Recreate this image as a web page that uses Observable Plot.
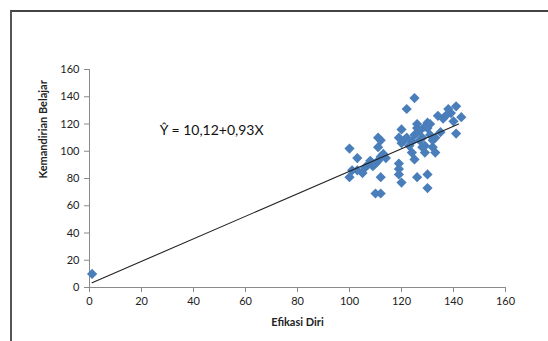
<!DOCTYPE html>
<html>
<head>
<meta charset="utf-8">
<script src="https://cdn.jsdelivr.net/npm/d3@7"></script>
<script src="https://cdn.jsdelivr.net/npm/@observablehq/plot@0.6"></script>
<style>
  html, body { margin: 0; padding: 0; background: #fff; overflow: hidden; }
  body { width: 548px; height: 341px; position: relative; }
  #frame { position: absolute; left: 10px; top: 10px; right: 0; bottom: 0;
           border-top: 2px solid #444; border-left: 2px solid #555; }
  #chart { position: absolute; left: 0; top: 0; }
</style>
</head>
<body>
<div id="frame"></div>
<div id="chart"></div>
<script>
// Efikasi Diri (x) and Kemandirian Belajar (y) observations
const efikasi = [1,
  100, 100, 101, 103, 103, 105, 106, 107, 108, 109, 110, 111, 111, 112, 111, 112, 110, 112, 113, 114, 112,
  120, 119, 120, 119, 119, 119, 120, 122, 125, 121, 122, 123, 124, 125, 126, 126, 127, 128, 128, 124, 125,
  126, 129, 129, 130, 130, 131, 132, 132, 133, 130, 130, 129, 134, 135, 137, 138, 139, 141, 140, 143, 141,
  136, 131, 127, 133];
const kemandirian = [10,
  102, 81, 86, 95, 86, 84, 88, 90, 93, 89, 91, 93, 110, 108, 103, 81, 69, 69, 98, 95, 96,
  116, 110, 106, 91, 87, 83, 77, 131, 139, 108, 110, 104, 107, 112, 117, 120, 115, 110, 103, 99, 94,
  81, 99, 104, 117, 121, 112, 108, 103, 99, 83, 73, 118, 126, 114, 126, 131, 128, 133, 122, 125, 113,
  124, 120, 108, 110];

// Trend line end points as drawn
const trendX = [1, 142];
const trendY = [3.5, 120];

// Equation label
const eqText = ["Ŷ = 10,12+0,93X"];
const eqX = [27];
const eqY = [115];

// Axis ticks and titles
const xTicks = [0, 20, 40, 60, 80, 100, 120, 140, 160];
const yTicks = [0, 20, 40, 60, 80, 100, 120, 140, 160];
const xTitle = "Efikasi Diri";
const yTitle = "Kemandirian Belajar";

const points = efikasi.map((x, i) => ({x, y: kemandirian[i]}));
const trend = trendX.map((x, i) => ({x, y: trendY[i]}));
const eq = eqText.map((t, i) => ({t, x: eqX[i], y: eqY[i]}));

const chart = Plot.plot({
  width: 548,
  height: 341,
  marginLeft: 89,
  marginRight: 43,
  marginTop: 69,
  marginBottom: 54,
  style: {fontFamily: "Lato, 'Open Sans', sans-serif", fontSize: "11px", color: "#222", background: "transparent"},
  x: {domain: [0, 160]},
  y: {domain: [0, 160]},
  marks: [
    Plot.axisX({ticks: xTicks, tickSize: 5, tickPadding: 5, stroke: "#8a8a8a", fill: "#222", label: null}),
    Plot.axisY({ticks: yTicks, tickSize: 5, tickPadding: 5, stroke: "#8a8a8a", fill: "#222", label: null}),
    Plot.ruleY([0], {stroke: "#8a8a8a"}),
    Plot.ruleX([0], {stroke: "#8a8a8a"}),
    Plot.dot(points, {x: "x", y: "y", symbol: "diamond2", r: 4.6, fill: "#4A7EBB", stroke: "none"}),
    Plot.line(trend, {x: "x", y: "y", stroke: "#222", strokeWidth: 1.1}),
    Plot.text(eq, {x: "x", y: "y", text: "t", textAnchor: "start", fontSize: 14, fill: "#111"}),
    Plot.text([xTitle], {frameAnchor: "bottom", dy: 38, fontWeight: "bold", fontSize: 11, fill: "#222"}),
    Plot.text([yTitle], {frameAnchor: "left", dx: -46, rotate: -90, fontWeight: "bold", fontSize: 11, fill: "#222"})
  ]
});
document.getElementById("chart").append(chart);
</script>
</body>
</html>
